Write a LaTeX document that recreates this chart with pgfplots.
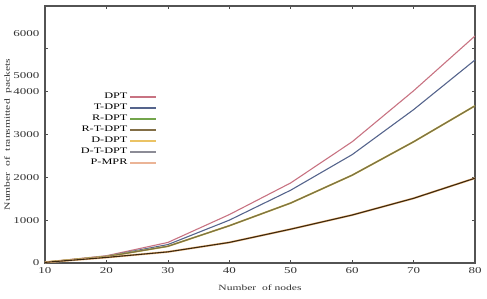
\documentclass[border=0pt]{standalone}
\usepackage{fontspec}
\setmainfont{Liberation Serif}[FakeStretch=1.45]
\usepackage{pgfplots}
\pgfplotsset{compat=1.18}
\definecolor{cDPT}{RGB}{200,115,130}
\definecolor{cTDPT}{RGB}{85,100,140}
\definecolor{cRDPT}{RGB}{115,165,75}
\definecolor{cRTDPT}{RGB}{130,110,70}
\definecolor{cDDPT}{RGB}{235,195,100}
\definecolor{cDTDPT}{RGB}{140,140,150}
\definecolor{cPMPR}{RGB}{235,180,150}
\definecolor{cdark}{RGB}{60,40,15}
\begin{document}
\begin{tikzpicture}
\begin{axis}[
  name=ax,
  scale only axis,
  width=430bp, height=257bp,
  xmin=10, xmax=80, ymin=0, ymax=6000,
  xtick={10,20,...,80},
  ytick={0,1000,2000,3000,4000,5000},
  yticklabels={0,1000,2000,3000,4000,},
  extra y ticks={4370,5350},
  extra y tick labels={5000,6000},
  extra y tick style={major tick length=0pt},
  scaled y ticks=false,
  /pgf/number format/assume math mode=true,
  /pgf/number format/1000 sep={},
  tick align=inside,
  tick pos=both,
  major tick length=3bp,
  tick style={gray!60!black, line width=0.7pt},
  axis line style={gray!65!black, line width=1.3pt},
  ticklabel style={font=\fontsize{9}{10}\selectfont, text=black!80},
  yticklabel style={xshift=-2bp},
  xticklabel style={yshift=-1bp},
  xlabel={Number\ \ of nodes},
  ylabel={Number\ \ of\ \ transmitted\ \ packets},
  label style={font=\fontsize{8}{9}\selectfont, text=black!80},
  xlabel style={at={(axis description cs:0.5,-0.097)}, anchor=center},
  ylabel style={at={(axis description cs:-0.086,0.5)}, anchor=center},
  legend cell align=right,
  legend plot pos=right,
  legend style={draw=none, fill=none, at={(axis description cs:0.076,0.673)}, anchor=north west,
    font=\fontsize{8.5}{9}\selectfont, row sep=0bp, inner sep=1bp},
  legend image code/.code={\draw[#1, line width=1.5pt] (0bp,0bp) -- (26bp,0bp);},
]
\addlegendimage{cDPT}\addlegendentry{DPT}
\addlegendimage{cTDPT}\addlegendentry{T-DPT}
\addlegendimage{cRDPT}\addlegendentry{R-DPT}
\addlegendimage{cRTDPT}\addlegendentry{R-T-DPT}
\addlegendimage{cDDPT}\addlegendentry{D-DPT}
\addlegendimage{cDTDPT}\addlegendentry{D-T-DPT}
\addlegendimage{cPMPR}\addlegendentry{P-MPR}
% DPT
\addplot[cDPT, line width=1.1pt, forget plot] coordinates {(10,20) (20,170) (30,480) (40,1130) (50,1870) (60,2830) (70,4020) (80,5300)};
% T-DPT
\addplot[cTDPT, line width=1.1pt, forget plot] coordinates {(10,20) (20,160) (30,430) (40,1000) (50,1700) (60,2530) (70,3580) (80,4740)};
% D-DPT (under mid)
\addplot[cDDPT, line width=1.8pt, forget plot] coordinates {(10,20) (20,150) (30,390) (40,870) (50,1400) (60,2050) (70,2830) (80,3670)};
% R-DPT
\addplot[cRDPT, line width=1.1pt, forget plot] coordinates {(10,20) (20,150) (30,390) (40,870) (50,1400) (60,2050) (70,2830) (80,3670)};
% R-T-DPT
\addplot[cRTDPT, line width=1pt, forget plot] coordinates {(10,20) (20,150) (30,390) (40,870) (50,1400) (60,2050) (70,2830) (80,3670)};
% P-MPR
\addplot[cPMPR!60!cDDPT, line width=2pt, forget plot] coordinates {(10,15) (20,130) (30,260) (40,480) (50,790) (60,1120) (70,1510) (80,1980)};
% D-T-DPT
\addplot[cdark, line width=1.1pt, forget plot] coordinates {(10,15) (20,130) (30,260) (40,480) (50,790) (60,1120) (70,1510) (80,1980)};
\end{axis}
\pgfresetboundingbox
\path ([xshift=-45bp,yshift=-35bp]ax.south west) rectangle ([xshift=12bp,yshift=6bp]ax.north east);
\end{tikzpicture}
\end{document}
